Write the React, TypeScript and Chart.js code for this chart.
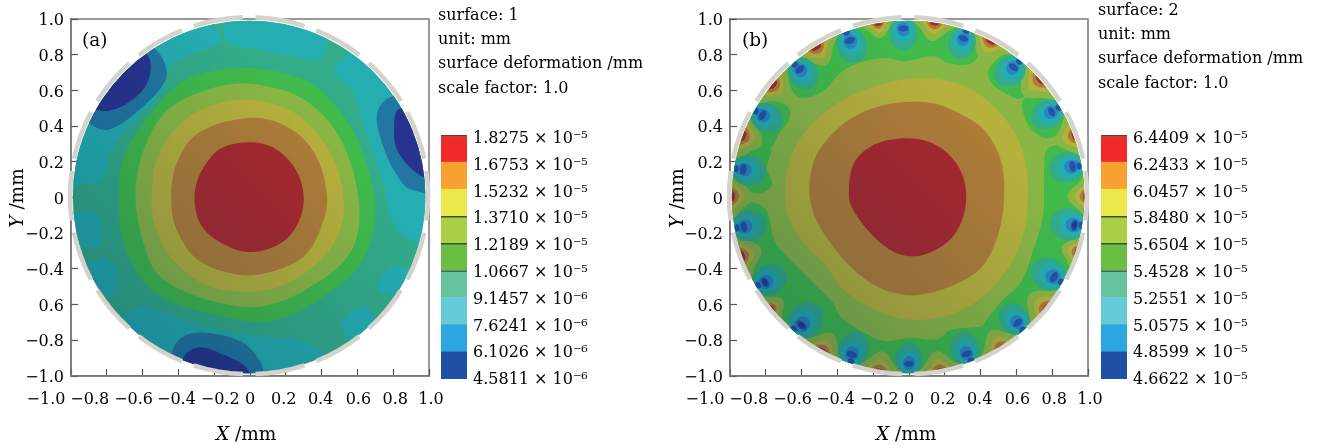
import React, { useEffect, useRef } from "react";
import { Chart, registerables } from "chart.js";

Chart.register(...registerables);

const FONT = "'DejaVu Serif', serif";
const FS = 16;

// ---------- axis labels ----------
const X_TICK_LABELS = ["−1.0", "−0.8", "−0.6", "−0.4", "−0.2", "0", "0.2", "0.4", "0.6", "0.8", "1.0"];
const Y_TICK_LABELS = ["−1.0", "−0.8", "0.6", "−0.4", "−0.2", "0", "0.2", "0.4", "0.6", "0.8", "1.0"];
const X_LABEL_SHIFT = [-25, -17, -9, -2, 6, 0, -2, -1, 1, 2, 2];

// ---------- colour bar ----------
const BAR_COLORS = ["#2050a4", "#2aa6e0", "#66cad6", "#66c4a0", "#6abd45", "#a9cf45", "#ece84a", "#f8a030", "#f02a2a"];
const BAR_LABELS_A = ["4.5811 × 10⁻⁶", "6.1026 × 10⁻⁶", "7.6241 × 10⁻⁶", "9.1457 × 10⁻⁶", "1.0667 × 10⁻⁵", "1.2189 × 10⁻⁵", "1.3710 × 10⁻⁵", "1.5232 × 10⁻⁵", "1.6753 × 10⁻⁵", "1.8275 × 10⁻⁵"];
const BAR_LABELS_B = ["4.6622 × 10⁻⁵", "4.8599 × 10⁻⁵", "5.0575 × 10⁻⁵", "5.2551 × 10⁻⁵", "5.4528 × 10⁻⁵", "5.6504 × 10⁻⁵", "5.8480 × 10⁻⁵", "6.0457 × 10⁻⁵", "6.2433 × 10⁻⁵", "6.4409 × 10⁻⁵"];

// ---------- contour colours ----------
const C_DARK = "#27338e";
const C_CORE = "#2453ac";
const C_BLUE = "#2276a2";
const C_SPOT_BLUE = "#2a85c0";
const C_TEAL = "#25aeb2";
const C_BASE = "#33ac8a";
const C_GREEN = "#40ba4a";
const C_LIME = "#8ab645";
const C_OLIVE = "#b6b03c";
const C_BROWN = "#ae7c38";
const C_RED = "#a8282e";

type P = number[];

// ---------- panel (a): contour outlines, in mm ----------
const A_RED: P[] = [[-.31,-.01],[-.28,.13],[-.17,.27],[-.01,.31],[.13,.28],[.25,.165],[.30,.01],[.27,-.14],[.18,-.25],[.01,-.305],[-.15,-.26],[-.27,-.16]];
const A_BROWN: P[] = [[-.44,-.01],[-.41,.19],[-.29,.36],[-.01,.445],[.2,.40],[.36,.25],[.43,.01],[.40,-.16],[.30,-.33],[.085,-.425],[-.08,-.43],[-.29,-.35],[-.41,-.18]];
const A_OLIVE: P[] = [[-.55,.01],[-.51,.24],[-.36,.44],[-.16,.53],[.03,.545],[.27,.46],[.46,.23],[.525,-.05],[.46,-.27],[.25,-.46],[.04,-.525],[-.22,-.50],[-.43,-.35],[-.53,-.16]];
const A_LIME: P[] = [[-.64,.01],[-.60,.25],[-.47,.48],[-.22,.61],[.02,.635],[.30,.55],[.51,.32],[.61,-.05],[.56,-.31],[.34,-.50],[.06,-.61],[-.245,-.57],[-.505,-.44],[-.60,-.235]];
const A_GREEN: P[] = [[-.735,.01],[-.70,.24],[-.57,.45],[-.36,.66],[-.03,.725],[.30,.66],[.485,.51],[.63,.25],[.70,-.07],[.63,-.35],[.44,-.535],[.13,-.69],[-.20,-.655],[-.53,-.535],[-.695,-.29]];
const A_TEAL_TOP: P[] = [[-.115,1.03],[-.13,.88],[.015,.835],[.25,.79],[.39,.775],[.43,.88],[.30,1.01]];
const A_TEAL_LEFT: P[] = [[-1.15,.06],[-.99,.06],[-.93,.08],[-.835,.09],[-.765,.285],[-.62,.455],[-.48,.62],[-.47,.715],[-.34,.80],[-.165,.875],[-.2,.985],[-.18,1.1],[-.6,1.1],[-1.1,.6]];
const A_TEAL_RIGHT: P[] = [[.485,.745],[.475,.695],[.58,.585],[.63,.415],[.70,.23],[.755,.045],[.815,-.18],[.985,-.265],[1.15,-.27],[1.15,.4],[.9,.8],[.6,.9],[.555,.815]];
const A_TEAL_L1: P[] = [[-1.1,-.08],[-.99,-.08],[-.86,-.085],[-.825,-.18],[-.845,-.27],[-.95,-.28],[-1.1,-.28]];
const A_TEAL_L2: P[] = [[-.895,-.365],[-.81,-.34],[-.73,-.44],[-.765,-.535],[-.80,-.55],[-1.0,-.55],[-1.0,-.37]];
const A_TEAL_BOTTOM: P[] = [[-.695,-.655],[-.60,-.61],[-.46,-.655],[-.27,-.72],[.015,-.775],[.25,-.795],[.39,-.85],[.405,-.89],[.30,-.925],[.11,-1.02],[0,-1.1],[-.5,-1.05],[-.8,-.8]];
const A_TEAL_BR: P[] = [[.52,-.685],[.63,-.61],[.70,-.685],[.65,-.76],[.555,-.795],[.52,-.74]];
const A_TEAL_RL: P[] = [[.71,-.48],[.79,-.385],[.90,-.41],[.96,-.44],[.815,-.535],[.735,-.535]];
const A_BLUE_UL: P[] = [[-.895,.415],[-.79,.38],[-.62,.49],[-.48,.64],[-.47,.735],[-.53,.835],[-.7,1.0],[-1.1,.6]];
const A_BLUE_R: P[] = [[.71,.47],[.79,.565],[1.1,.6],[1.1,.05],[.90,.045],[.815,.135],[.745,.285]];
const A_BLUE_B: P[] = [[-.435,-.87],[-.365,-.775],[-.22,-.76],[-.035,-.815],[.06,-.925],[.075,-.99],[.05,-1.1],[-.4,-1.1]];
const A_DARK_UL: P[] = [[-.855,.49],[-.74,.50],[-.60,.60],[-.555,.715],[-.575,.80],[-.75,.95],[-1.05,.6]];
const A_DARK_R: P[] = [[.84,.50],[.805,.40],[.83,.25],[.975,.11],[1.1,.1],[1.1,.5]];
const A_DARK_B: P[] = [[-.375,-.905],[-.29,-.84],[-.15,-.88],[-.01,-.97],[-.02,-1.1],[-.35,-1.1]];

// ---------- panel (b): contour outlines, in mm ----------
const B_RED: P[] = [[-.335,0],[-.311,.185],[-.209,.288],[-.05,.33],[.089,.319],[.201,.26],[.285,.157],[.32,.02],[.294,-.133],[.22,-.245],[.089,-.319],[-.02,-.326],[-.11,-.29],[-.209,-.207],[-.302,-.086]];
const B_BROWN: P[] = [[-.557,.03],[-.525,.222],[-.43,.355],[-.32,.446],[-.17,.51],[.006,.536],[.15,.525],[.294,.465],[.425,.372],[.515,.2],[.531,0],[.50,-.2],[.41,-.385],[.257,-.487],[.04,-.547],[-.115,-.525],[-.227,-.469],[-.339,-.375],[-.432,-.263],[-.516,-.13]];
const B_OLIVE: P[] = [[-.693,.02],[-.655,.241],[-.544,.409],[-.376,.54],[-.19,.624],[.01,.665],[.18,.66],[.35,.605],[.518,.465],[.629,.278],[.665,.04],[.639,-.207],[.555,-.394],[.406,-.562],[.201,-.665],[-.03,-.68],[-.246,-.599],[-.376,-.506],[-.469,-.375],[-.581,-.263],[-.665,-.133]];
const B_GREEN_BAND: P[] = [[-.86,-.03],[-.795,-.077],[-.749,-.245],[-.674,-.338],[-.544,-.469],[-.432,-.581],[-.376,-.674],[-.264,-.749],[-.134,-.805],[.006,-.786],[.155,-.795],[.238,-.74],[.406,-.721],[.434,-.683],[.518,-.581],[.629,-.469],[.704,-.263],[.75,-.095],[.756,.185],[.778,.278],[.89,.278],[1.02,.13],[1.1,-.3],[.9,-.8],[.4,-1.1],[-.4,-1.1],[-.9,-.7],[-1.15,-.2],[-1.05,-.04],[-.95,-.03]];
const B_GREEN_L2: P[] = [[-.981,.194],[-.898,.25],[-.823,.306],[-.771,.269],[-.795,.166],[-.767,.073],[-.823,.026],[-.898,.035],[-.991,.11],[-1.05,.2]];
const B_GREEN_L1: P[] = [[-.842,.54],[-.711,.53],[-.668,.493],[-.674,.428],[-.73,.353],[-.771,.278],[-.823,.306],[-.87,.428],[-.879,.484]];
const B_GREEN_TOP: P[] = [[-.683,.68],[-.637,.577],[-.572,.558],[-.469,.605],[-.385,.698],[-.283,.754],[-.134,.782],[-.022,.764],[.145,.792],[.22,.754],[.331,.745],[.384,.792],[.378,.866],[.341,.932],[.3,1.05],[-.2,1.1],[-.5,.95],[-.7,.82]];
const B_GREEN_UR: P[] = [[.443,.708],[.452,.652],[.536,.586],[.633,.558],[.648,.652],[.676,.708],[.62,.792],[.536,.801],[.48,.764]];
const B_GREEN_R1: P[] = [[.639,.549],[.648,.446],[.695,.372],[.778,.331],[.872,.39],[.918,.484],[.853,.558],[.723,.558]];
// deformation minima on the edge: x, y, size, number of rings
const B_SPOTS: P[] = [[-.032,.947,.95,4],[-.33,.88,1,4],[.304,.891,.9,4],[-.609,.717,.95,4],[.583,.73,.95,4],[.797,.48,.95,4],[-.819,.461,.95,4],[.914,.174,1,4],[-.926,.157,1,4],[.924,-.155,1.05,5],[-.922,-.164,1,4],[.81,-.446,1.05,4],[-.804,-.476,1,5],[-.6,-.715,1.1,5],[.607,-.702,.95,4],[-.32,-.88,1,4],[.322,-.876,.95,4],[0,-.932,.9,4]];
const B_SPOTS_EDGE: P[] = [[-.348,.922],[-.637,.745],[-.855,.484],[-.966,.161],[.318,.932],[.615,.76],[.834,.502],[.95,.176],[.961,-.155],[.847,-.472],[.633,-.74],[.345,-.911],[-.961,-.17],[-.842,-.491],[-.641,-.734],[-.324,-.917]];
// deformation maxima on the edge: polar angle in degrees, size
const B_TIPS: P[] = [[121.6,1],[140.3,1],[159.7,1],[179.6,1],[199.3,1],[219,.7],[42,1.15],[62.5,1],[81.7,.9],[100,.7],[20.5,1],[.4,.9],[-18,.8],[-39,1.1],[-58.6,1],[-80,1],[-99.7,1],[-119.4,1]];
const SPOT_RINGS: P[] = [[.085,.10,.03],[.06,.07,.015],[.038,.042,.005],[.03,.018,0],[.018,.012,0]];
const SPOT_COLORS = [C_BASE, C_TEAL, C_SPOT_BLUE, C_CORE, C_DARK];
const EDGE_RING: P = [.02,.014,0];
const TIP_LEVELS: P[] = [[.11,10],[.065,6.5],[.035,4.5],[.012,3]];
const TIP_COLORS = [C_LIME, C_OLIVE, C_BROWN, C_RED];

// ---------- fixture ring ----------
const RING_CENTERS_DEG = [0,20,40,60,80,100,120,140,160,180,200,220,240,260,280,300,320,340];
const RING_HALF_DEG = 8;
const RING_RADIUS = 1.0;
const RING_CX = -0.005;
const RING_CY = 0.01;
const DISK_RADIUS = 0.985;
const DISK_CX = -0.005;
const DISK_CY = 0.003;
const DISK_OUTLINE: P[] = [[1.2,0],[0,1.2],[-1.2,0],[0,-1.2]];

const poly = (pts: P[]) => pts.map(([x, y]) => ({ x, y }));
const contour = (pts: P[], color: string) => ({
  data: poly(pts), contour: true, backgroundColor: color, borderColor: color, borderWidth: 0, pointRadius: 0, showLine: false,
});

function ovalAt(x: number, y: number, s: number, ring: P, color: string) {
  const th = Math.atan2(y, x);
  const cx = x - Math.cos(th) * ring[2] * s;
  const cy = y - Math.sin(th) * ring[2] * s;
  const pts: P[] = [];
  for (let k = 0; k < 10; k++) {
    const a = (k / 10) * Math.PI * 2;
    const u = Math.cos(a) * ring[1] * s;
    const v = Math.sin(a) * ring[0] * s;
    pts.push([cx + u * Math.cos(th) - v * Math.sin(th), cy + u * Math.sin(th) + v * Math.cos(th)]);
  }
  return contour(pts, color);
}

function spotRings(): any[] {
  const out: any[] = [];
  SPOT_RINGS.forEach((ring, r) => {
    B_SPOTS.forEach(([x, y, s, n]) => {
      if (r < n) out.push(ovalAt(x, y, s, ring, SPOT_COLORS[r]));
    });
  });
  B_SPOTS_EDGE.forEach(([x, y]) => out.push(ovalAt(x, y, 1, EDGE_RING, C_CORE)));
  return out;
}

function tips(level: number): any[] {
  const [depth, hw] = TIP_LEVELS[level];
  return B_TIPS.map(([deg, s]) => {
    const at = (d: number, r: number): P => [Math.cos(((deg + d) * Math.PI) / 180) * r, Math.sin(((deg + d) * Math.PI) / 180) * r];
    const w = hw * s;
    const dp = depth * s;
    return contour([at(-w, 1.06), at(-w * 0.5, DISK_RADIUS - dp * 0.35), at(0, DISK_RADIUS - dp), at(w * 0.5, DISK_RADIUS - dp * 0.35), at(w, 1.06), at(0, 1.1)], TIP_COLORS[level]);
  });
}

function ringSegments(): any[] {
  return RING_CENTERS_DEG.map((c) => {
    const pts = [-1, -0.5, 0, 0.5, 1].map((f) => {
      const a = ((c + f * RING_HALF_DEG) * Math.PI) / 180;
      return { x: RING_CX + Math.cos(a) * RING_RADIUS, y: RING_CY + Math.sin(a) * RING_RADIUS };
    });
    return { data: pts, showLine: true, borderColor: "#d3d3cb", borderWidth: 4.5, pointRadius: 0, clip: false, backgroundColor: "transparent" };
  });
}

const PANEL_A = () => [
  contour(DISK_OUTLINE, C_BASE),
  contour(A_TEAL_TOP, C_TEAL), contour(A_TEAL_LEFT, C_TEAL), contour(A_TEAL_RIGHT, C_TEAL), contour(A_TEAL_L1, C_TEAL),
  contour(A_TEAL_L2, C_TEAL), contour(A_TEAL_BOTTOM, C_TEAL), contour(A_TEAL_BR, C_TEAL), contour(A_TEAL_RL, C_TEAL),
  contour(A_BLUE_UL, C_BLUE), contour(A_BLUE_R, C_BLUE), contour(A_BLUE_B, C_BLUE),
  contour(A_DARK_UL, C_DARK), contour(A_DARK_R, C_DARK), contour(A_DARK_B, C_DARK),
  contour(A_GREEN, C_GREEN), contour(A_LIME, C_LIME), contour(A_OLIVE, C_OLIVE), contour(A_BROWN, C_BROWN), contour(A_RED, C_RED),
];
const PANEL_B = () => [
  contour(DISK_OUTLINE, C_LIME),
  contour(B_GREEN_TOP, C_GREEN), contour(B_GREEN_UR, C_GREEN), contour(B_GREEN_R1, C_GREEN), contour(B_GREEN_BAND, C_GREEN),
  contour(B_GREEN_L1, C_GREEN), contour(B_GREEN_L2, C_GREEN),
  ...tips(0), ...spotRings(), ...tips(1), ...tips(2), ...tips(3),
  contour(B_OLIVE, C_OLIVE), contour(B_BROWN, C_BROWN), contour(B_RED, C_RED),
];

// Fills each contour as a smooth closed outline, clipped to the mirror disk.
const contourPlugin = {
  id: "contourFill",
  beforeDatasetDraw(chart: any, args: any) {
    const ds = chart.data.datasets[args.index];
    if (!ds.contour) return;
    const { ctx } = chart;
    const xs = chart.scales.x;
    const ys = chart.scales.y;
    const cx = xs.getPixelForValue(DISK_CX);
    const cy = ys.getPixelForValue(DISK_CY);
    const r = Math.abs(xs.getPixelForValue(DISK_RADIUS) - xs.getPixelForValue(0));
    const pts = args.meta.data.map((p: any) => ({ x: p.x, y: p.y }));
    const n = pts.length;
    ctx.save();
    ctx.beginPath();
    ctx.arc(cx, cy, r, 0, Math.PI * 2);
    ctx.clip();
    ctx.beginPath();
    ctx.moveTo(pts[0].x, pts[0].y);
    for (let i = 0; i < n; i++) {
      const p0 = pts[(i - 1 + n) % n], p1 = pts[i], p2 = pts[(i + 1) % n], p3 = pts[(i + 2) % n];
      const seg = Math.hypot(p2.x - p1.x, p2.y - p1.y) / 3;
      const d1 = Math.hypot(p2.x - p0.x, p2.y - p0.y) || 1;
      const d2 = Math.hypot(p3.x - p1.x, p3.y - p1.y) || 1;
      ctx.bezierCurveTo(
        p1.x + ((p2.x - p0.x) / d1) * seg, p1.y + ((p2.y - p0.y) / d1) * seg,
        p2.x - ((p3.x - p1.x) / d2) * seg, p2.y - ((p3.y - p1.y) / d2) * seg,
        p2.x, p2.y);
    }
    ctx.closePath();
    ctx.fillStyle = ds.backgroundColor;
    ctx.fill();
    ctx.restore();
    return false;
  },
};

// Soft shading of the rendered surface, darker to the lower left; laid down just before the ring.
const shadePlugin = {
  id: "shade",
  beforeDatasetDraw(chart: any, args: any) {
    const ds = chart.data.datasets[args.index];
    if (!ds.firstRing) return;
    const { ctx } = chart;
    const xs = chart.scales.x;
    const ys = chart.scales.y;
    const cx = xs.getPixelForValue(DISK_CX);
    const cy = ys.getPixelForValue(DISK_CY);
    const r = Math.abs(xs.getPixelForValue(DISK_RADIUS) - xs.getPixelForValue(0));
    const g = ctx.createLinearGradient(cx - r * 0.72, cy + r * 0.72, cx + r * 0.4, cy - r * 0.4);
    g.addColorStop(0, "rgba(0,40,70,0.25)");
    g.addColorStop(1, "rgba(0,40,70,0)");
    ctx.save();
    ctx.beginPath();
    ctx.arc(cx, cy, r, 0, Math.PI * 2);
    ctx.fillStyle = g;
    ctx.fill();
    ctx.restore();
  },
};

const framePlugin = {
  id: "frame",
  beforeDraw(chart: any) {
    const { ctx, chartArea: a } = chart;
    ctx.save();
    ctx.strokeStyle = "#777";
    ctx.lineWidth = 1.5;
    ctx.strokeRect(a.left, a.top, a.right - a.left, a.bottom - a.top);
    ctx.restore();
    const xItems = chart.scales.x.getLabelItems();
    if (!xItems.__shifted) {
      xItems.forEach((it: any, i: number) => { it.options.translation[0] += X_LABEL_SHIFT[i] || 0; });
      xItems.__shifted = true;
    }
    const yItems = chart.scales.y.getLabelItems();
    if (!yItems.__shifted) {
      yItems.forEach((it: any) => { it.options.translation[1] += 2; });
      yItems.__shifted = true;
    }
  },
};

// The colour bar's labels sit a little below their boundaries, more so towards the top.
const barLabelPlugin = {
  id: "barLabels",
  beforeDraw(chart: any) {
    const items = chart.scales.y.getLabelItems();
    if (!items.__shifted) {
      items.forEach((it: any, i: number) => { it.options.translation[1] += 1 + i / 3; });
      items.__shifted = true;
    }
  },
};

const noPad = (s: any) => { s.paddingLeft = 0; s.paddingRight = 0; s.paddingTop = 0; s.paddingBottom = 0; };

function contourChart(canvas: HTMLCanvasElement, datasets: any[]) {
  const ring = ringSegments();
  ring[0].firstRing = true;
  const all = [...datasets, ...ring];
  all.forEach((d, i) => { d.order = all.length - i; });
  return new Chart(canvas, {
    type: "scatter",
    data: { datasets: all },
    options: {
      responsive: false, animation: false,
      layout: { padding: { top: 19, right: 31, left: 0, bottom: 0 } },
      plugins: { legend: { display: false }, tooltip: { enabled: false } },
      scales: {
        x: {
          type: "linear", min: -1, max: 1,
          afterFit: (s: any) => { s.height = 72; noPad(s); },
          grid: { drawOnChartArea: false, tickLength: -7, tickColor: "#555", tickWidth: 1.2 },
          border: { color: "#777", width: 1.5 },
          ticks: { stepSize: 0.2, autoSkip: false, maxRotation: 0, padding: 21, color: "#000", font: { family: FONT, size: FS }, callback: (_v: any, i: number) => X_TICK_LABELS[i] },
        },
        y: {
          type: "linear", min: -1, max: 1,
          afterFit: (s: any) => { s.width = 71; noPad(s); },
          grid: { drawOnChartArea: false, tickLength: -7, tickColor: "#555", tickWidth: 1.2 },
          border: { color: "#777", width: 1.5 },
          ticks: { stepSize: 0.2, autoSkip: false, padding: 14, color: "#000", font: { family: FONT, size: FS }, callback: (_v: any, i: number) => Y_TICK_LABELS[i] },
        },
      },
    } as any,
    plugins: [contourPlugin, shadePlugin, framePlugin],
  });
}

function colorBar(canvas: HTMLCanvasElement, labels: string[]) {
  const DARK_TOP = [3, 4, 5];
  return new Chart(canvas, {
    type: "bar",
    data: {
      labels: [""],
      datasets: BAR_COLORS.map((c, i) => ({
        data: [1], backgroundColor: c, barPercentage: 1, categoryPercentage: 1,
        borderSkipped: false,
        borderColor: "#3d4f33",
        borderWidth: DARK_TOP.includes(i) || i === 8 ? { top: 1.5, left: 0, right: 0, bottom: 0 } : 0,
      })),
    },
    options: {
      responsive: false, animation: false,
      layout: { padding: { left: 9, top: 25, bottom: 21, right: 0 } },
      plugins: { legend: { display: false }, tooltip: { enabled: false } },
      scales: {
        x: { stacked: true, display: false },
        y: {
          stacked: true, min: 0, max: 9, position: "right",
          afterFit: (s: any) => { s.width = 185; noPad(s); },
          grid: { display: false, drawTicks: false }, border: { display: false },
          ticks: { stepSize: 1, padding: 6, color: "#000", font: { family: FONT, size: FS }, callback: (_v: any, i: number) => labels[i] },
        },
      },
    } as any,
    plugins: [barLabelPlugin],
  });
}

const textStyle = (left: number, top: number): React.CSSProperties => ({
  position: "absolute", left, top, fontFamily: FONT, fontSize: FS, color: "#000", whiteSpace: "nowrap", lineHeight: "20px",
});

function Info({ left, top, id }: { left: number; top: number; id: number }) {
  const lines = [`surface: ${id}`, "unit: mm", "surface deformation /mm", "scale factor: 1.0"];
  return <>{lines.map((t, i) => <div key={t} style={textStyle(left, top + i * 24.2)}>{t}</div>)}</>;
}

function AxisTitles({ dx }: { dx: number }) {
  return (
    <>
      <div style={{ ...textStyle(216 + dx, 424), fontSize: 18.5 }}><i>X</i> /mm</div>
      <div style={{ ...textStyle(17 + dx - 30, 188), fontSize: 18.5, width: 60, textAlign: "center", transform: "rotate(-90deg)" }}><i>Y</i> /mm</div>
    </>
  );
}

export default function App() {
  const a = useRef<HTMLCanvasElement>(null);
  const b = useRef<HTMLCanvasElement>(null);
  const ca = useRef<HTMLCanvasElement>(null);
  const cb = useRef<HTMLCanvasElement>(null);
  useEffect(() => {
    const charts = [
      contourChart(a.current!, PANEL_A()),
      contourChart(b.current!, PANEL_B()),
      colorBar(ca.current!, BAR_LABELS_A),
      colorBar(cb.current!, BAR_LABELS_B),
    ];
    return () => charts.forEach((c) => c.destroy());
  }, []);
  const abs = (left: number, top: number): React.CSSProperties => ({ position: "absolute", left, top, display: "block" });
  return (
    <div style={{ position: "absolute", left: 0, top: 0, width: 1317, height: 448, overflow: "hidden", background: "#fff" }}>
      <canvas ref={a} width={460} height={448} style={abs(0, 0)} />
      <canvas ref={b} width={460} height={448} style={abs(659, 0)} />
      <canvas ref={ca} width={220} height={290} style={abs(432, 110)} />
      <canvas ref={cb} width={220} height={290} style={abs(1092, 110)} />
      <Info left={438} top={5} id={1} />
      <Info left={1098} top={0} id={2} />
      <AxisTitles dx={0} />
      <AxisTitles dx={660} />
      <div style={{ ...textStyle(82, 30), fontSize: 18.5 }}>(a)</div>
      <div style={{ ...textStyle(742, 30), fontSize: 18.5 }}>(b)</div>
    </div>
  );
}
